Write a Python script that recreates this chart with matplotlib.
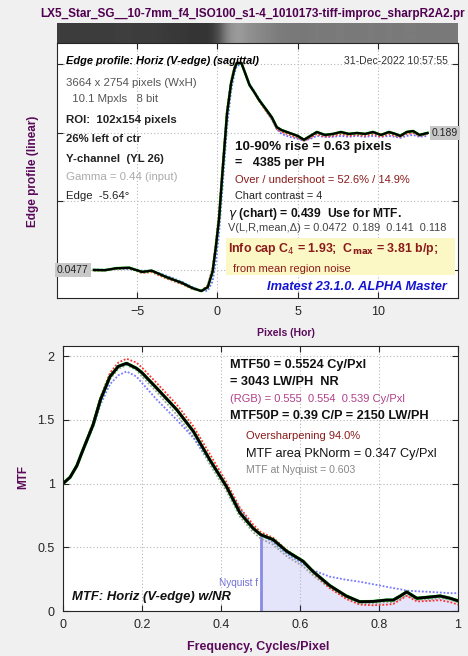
import numpy as np
import matplotlib
matplotlib.use("Agg")
import matplotlib.pyplot as plt

plt.rcParams['font.family'] = ['Liberation Sans', 'DejaVu Sans']

W, H = 468, 656

# ===========================
# Dados - perfil da borda
# ===========================
edge_x = [-7.7, -7.0, -6.3, -5.5, -4.7, -4.1, -3.2, -2.2, -1.55, -1.0, -0.6, -0.3, -0.1, 0.1, 0.3,
          0.6, 0.85, 1.06, 1.2, 1.5, 1.7, 2.0, 2.3, 2.6, 3.05, 3.4, 3.7, 4.0, 4.5, 5.0, 5.4, 5.8,
          6.2, 6.7, 7.2, 7.7, 8.2, 8.7, 9.2, 9.7, 10.2, 10.7, 11.1, 11.4, 11.8, 12.2, 12.6, 13.1]
edge_y = [0.0477, 0.0475, 0.0495, 0.0500, 0.0457, 0.0470, 0.0405, 0.0343, 0.0290, 0.0260, 0.0300,
          0.0460, 0.0710, 0.100, 0.145, 0.209, 0.240, 0.255, 0.261, 0.261, 0.252, 0.2385, 0.231,
          0.223, 0.213, 0.205, 0.195, 0.192, 0.189, 0.186, 0.182, 0.186, 0.190, 0.187, 0.188, 0.190,
          0.188, 0.189, 0.188, 0.190, 0.187, 0.190, 0.188, 0.186, 0.190, 0.191, 0.187, 0.189]
edge_r = [0.0470, 0.0472, 0.0490, 0.0495, 0.0445, 0.0455, 0.0390, 0.0330, 0.0280, 0.0262, 0.0320,
          0.0500, 0.0760, 0.107, 0.152, 0.214, 0.243, 0.257, 0.262, 0.262, 0.253, 0.239, 0.231,
          0.222, 0.211, 0.203, 0.193, 0.190, 0.187, 0.184, 0.181, 0.184, 0.188, 0.185, 0.186, 0.188,
          0.186, 0.187, 0.186, 0.188, 0.185, 0.188, 0.186, 0.185, 0.188, 0.189, 0.186, 0.188]
edge_b = [0.0480, 0.0480, 0.0490, 0.0485, 0.0470, 0.0470, 0.0420, 0.0355, 0.0300, 0.0262, 0.0262,
          0.0360, 0.0560, 0.085, 0.128, 0.195, 0.232, 0.250, 0.258, 0.260, 0.253, 0.240, 0.232,
          0.224, 0.212, 0.203, 0.193, 0.188, 0.185, 0.183, 0.181, 0.183, 0.186, 0.185, 0.185, 0.186,
          0.185, 0.186, 0.185, 0.186, 0.185, 0.186, 0.185, 0.184, 0.186, 0.187, 0.185, 0.186]
edge_ticks = [0.0477, 0.1184, 0.189, 0.2597]

# ===========================
# Dados - MTF
# ===========================
mtf_f = [0, 0.018, 0.035, 0.05, 0.076, 0.095, 0.119, 0.14, 0.161, 0.186, 0.2, 0.237, 0.288, 0.33,
         0.372, 0.414, 0.448, 0.481, 0.5, 0.532, 0.566, 0.608, 0.633, 0.675, 0.717, 0.751, 0.785,
         0.819, 0.836, 0.855, 0.87, 0.896, 0.93, 0.955, 0.98, 1.0]
mtf_k = [1.0, 1.05, 1.14, 1.26, 1.46, 1.66, 1.84, 1.92, 1.944, 1.905, 1.87, 1.75, 1.58, 1.41,
         1.185, 0.976, 0.77, 0.65, 0.60, 0.56, 0.47, 0.39, 0.31, 0.20, 0.118, 0.073, 0.075,
         0.086, 0.086, 0.12, 0.15, 0.10, 0.11, 0.118, 0.10, 0.08]
mtf_r = [1.0, 1.05, 1.14, 1.27, 1.48, 1.68, 1.87, 1.95, 1.98, 1.95, 1.91, 1.79, 1.62, 1.45,
         1.23, 1.01, 0.81, 0.68, 0.62, 0.575, 0.48, 0.39, 0.30, 0.18, 0.095, 0.05, 0.045,
         0.05, 0.055, 0.09, 0.12, 0.075, 0.08, 0.085, 0.07, 0.05]
mtf_b = [1.0, 1.05, 1.14, 1.25, 1.44, 1.62, 1.78, 1.85, 1.88, 1.84, 1.79, 1.66, 1.50, 1.36,
         1.17, 0.98, 0.80, 0.66, 0.60, 0.54, 0.45, 0.37, 0.32, 0.27, 0.245, 0.23, 0.21,
         0.19, 0.18, 0.17, 0.16, 0.155, 0.15, 0.145, 0.14, 0.14]
mtf_g = [1.0, 1.05, 1.13, 1.25, 1.45, 1.64, 1.82, 1.90, 1.93, 1.89, 1.84, 1.72, 1.54, 1.37,
         1.15, 0.94, 0.74, 0.62, 0.57, 0.52, 0.43, 0.35, 0.28, 0.18, 0.10, 0.06, 0.06,
         0.07, 0.07, 0.10, 0.12, 0.09, 0.09, 0.10, 0.09, 0.07]
nyquist = 0.5

purple = '#5a0a5a'
darkred = '#8b1a1a'
grid_kw = dict(color='#b8b8b8', linestyle=(0, (1, 2)), linewidth=0.8)


def rect(x0, y0, x1, y1):
    return [x0 / W, 1 - y1 / H, (x1 - x0) / W, (y1 - y0) / H]


def ftext(x, y, s, **kw):
    kw.setdefault('va', 'center')
    fig.text(x / W, 1 - y / H, s, **kw)


fig = plt.figure(figsize=(W / 100, H / 100), dpi=100, facecolor='#f0f0f0')

# ===========================
# Faixa da imagem da borda
# ===========================
ax_s = fig.add_axes(rect(57, 23, 458, 43))
xs = np.linspace(-10, 15, 400)
strip = np.interp(xs, edge_x, edge_y)
ax_s.imshow(strip[None, :], aspect='auto', cmap='gray', vmin=-0.0935, vmax=0.4947,
            extent=[-10, 15, 0, 1])
ax_s.set_axis_off()

# ===========================
# Perfil da borda
# ===========================
ax1 = fig.add_axes(rect(57, 43, 458, 298))
ax1.set_facecolor('white')
ax1.plot(edge_x, edge_b, color='#6a6aff', linestyle=(0, (1, 1)), lw=1.3)
ax1.plot(edge_x, edge_r, color='#ff3030', linestyle=(0, (1, 1)), lw=1.3)
ax1.plot(edge_x, edge_y, color='#00b000', lw=1.9)
ax1.plot(edge_x, edge_y, color='black', lw=1.6)
ax1.set_xlim(-10, 15)
ax1.set_ylim(0.0188, 0.2818)
ax1.set_xticks([-5, 0, 5, 10])
ax1.set_yticks(edge_ticks)
ax1.set_yticklabels([])
ax1.tick_params(direction='in', top=True, right=True, length=4, labelsize=9,
                colors='#262626', pad=6)
ax1.grid(True, **grid_kw)
for sp in ax1.spines.values():
    sp.set_color('#262626')
ax1.text(0, 0.0477, '0.0477', transform=ax1.get_yaxis_transform(), ha='left', va='center',
         fontsize=7.5, color='#222222', bbox=dict(facecolor='#c8c8c8', edgecolor='none', pad=1.5))
ax1.text(1, 0.189, '0.189', transform=ax1.get_yaxis_transform(), ha='right', va='center',
         fontsize=7.5, color='#222222', bbox=dict(facecolor='#c8c8c8', edgecolor='none', pad=1.5))

ftext(33, 171, 'Edge profile (linear)', rotation=90, ha='center', fontsize=8.5,
      fontweight='bold', color=purple)
ftext(286, 333, 'Pixels (Hor)', ha='center', fontsize=7.5, fontweight='bold', color=purple)

ftext(40, 14, 'LX5_Star_SG__10-7mm_f4_ISO100_s1-4_1010173-tiff-improc_sharpR2A2.pr',
      fontsize=8.5, fontweight='bold', color='#500050')

ftext(66, 61, 'Edge profile: Horiz (V-edge) (sagittal)', fontsize=7.9, fontweight='bold',
      fontstyle='italic')
ftext(448, 61, '31-Dec-2022 10:57:55', ha='right', fontsize=7.5, color='#333333')
ftext(66, 83, '3664 x 2754 pixels (WxH)', fontsize=8.2, color='#555555')
ftext(66, 99, '  10.1 Mpxls   8 bit', fontsize=8.2, color='#555555')
ftext(66, 120, 'ROI:  102x154 pixels', fontsize=8.2, fontweight='bold', color='#222222')
ftext(66, 139, '26% left of ctr', fontsize=8.2, fontweight='bold', color='#222222')
ftext(66, 159, 'Y-channel  (YL 26)', fontsize=8.2, fontweight='bold', color='#222222')
ftext(66, 177, 'Gamma = 0.44 (input)', fontsize=8.2, color='#aaaaaa')
ftext(66, 196, 'Edge  -5.64\u00b0', fontsize=8.2, color='#222222')

ftext(235, 147, '10-90% rise = 0.63 pixels', fontsize=9.6, fontweight='bold', color='#111111')
ftext(235, 163, '=   4385 per PH', fontsize=9, fontweight='bold', color='#111111')
ftext(235, 180, 'Over / undershoot = 52.6% / 14.9%', fontsize=8, color=darkred)
ftext(235, 196, 'Chart contrast = 4', fontsize=7.8, color='#222222')
ftext(228, 214, r'$\gamma$ (chart) = 0.439  Use for MTF.', fontsize=8.7, fontweight='bold',
      color='#111111')
ftext(228, 228, 'V(L,R,mean,\u0394) = 0.0472  0.189  0.141  0.118', fontsize=7.9,
      color='#444444')
fig.patches.append(plt.Rectangle((226 / W, 1 - 275 / H), (455 - 226) / W, (275 - 238) / H,
                                 transform=fig.transFigure, facecolor='#fbf8c6',
                                 edgecolor='none', zorder=2))
ftext(228, 249, r'Info cap C$_4$ = 1.93;  C$_{\bf max}$ = 3.81 b/p;', fontsize=8.9,
      fontweight='bold', color=darkred, zorder=3)
ftext(233, 269, 'from mean region noise', fontsize=8, color=darkred, zorder=3)
ftext(447, 287, 'Imatest 23.1.0. ALPHA Master', ha='right', fontsize=9.3, fontweight='bold',
      fontstyle='italic', color='#1414d2')

# ===========================
# MTF
# ===========================
ax2 = fig.add_axes(rect(63, 346, 458, 611))
ax2.set_facecolor('white')
f_arr = np.array(mtf_f)
k_arr = np.array(mtf_k)
sel = f_arr >= nyquist
ax2.fill_between(f_arr[sel], 0, k_arr[sel], color='#e4e4fa', lw=0)
ax2.plot([nyquist, nyquist], [0, np.interp(nyquist, f_arr, k_arr)], color='#8a8ae6', lw=2)
ax2.plot(mtf_f, mtf_g, color='#a0a0a0', linestyle=(0, (1, 1)), lw=1.3)
ax2.plot(mtf_f, mtf_b, color='#7878ff', linestyle=(0, (1, 1)), lw=1.3)
ax2.plot(mtf_f, mtf_r, color='#ff3030', linestyle=(0, (1, 1)), lw=1.3)
ax2.plot(mtf_f, mtf_k, color='#00c000', lw=2.3)
ax2.plot(mtf_f, mtf_k, color='black', lw=2.0)
ax2.set_xlim(0, 1)
ax2.set_ylim(0, 2.08)
ax2.set_xticks([0, 0.2, 0.4, 0.6, 0.8, 1])
ax2.set_xticklabels(['0', '0.2', '0.4', '0.6', '0.8', '1'])
ax2.set_yticks([0, 0.5, 1, 1.5, 2])
ax2.set_yticklabels(['0', '0.5', '1', '1.5', '2'])
ax2.tick_params(direction='in', top=True, right=True, length=4, labelsize=9,
                colors='#262626', pad=6)
ax2.grid(True, **grid_kw)
for sp in ax2.spines.values():
    sp.set_color('#262626')

ftext(23, 477, 'MTF', rotation=90, ha='center', fontsize=8.5, fontweight='bold', color=purple)
ftext(258, 647, 'Frequency, Cycles/Pixel', ha='center', fontsize=9, fontweight='bold',
      color=purple)

ftext(230, 365, 'MTF50 = 0.5524 Cy/Pxl', fontsize=9.2, fontweight='bold', color='#111111')
ftext(230, 382, '= 3043 LW/PH  NR', fontsize=9.2, fontweight='bold', color='#111111')
ftext(230, 399, '(RGB) = 0.555  0.554  0.539 Cy/Pxl', fontsize=8, color='#b0408a')
ftext(230, 416, 'MTF50P = 0.39 C/P = 2150 LW/PH', fontsize=9.2, fontweight='bold',
      color='#111111')
ftext(246, 436, 'Oversharpening 94.0%', fontsize=8, color=darkred)
ftext(246, 454, 'MTF area PkNorm = 0.347 Cy/Pxl', fontsize=9.2, color='#111111')
ftext(246, 470, 'MTF at Nyquist = 0.603', fontsize=7.6, color='#888888')
ftext(258, 583, 'Nyquist f', ha='right', fontsize=7.2, color='#7070d8')
ftext(72, 597, 'MTF: Horiz (V-edge) w/NR', fontsize=9.4, fontweight='bold', fontstyle='italic',
      color='#111111')

fig.savefig('out.png', dpi=100, facecolor=fig.get_facecolor())
